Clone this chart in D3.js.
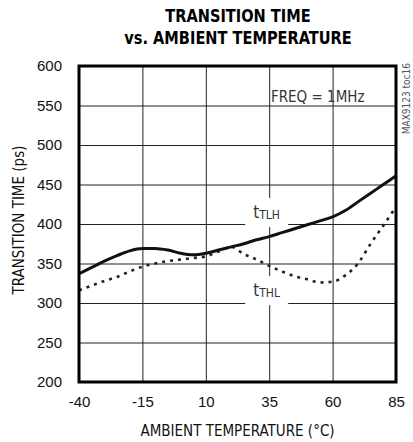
<!DOCTYPE html>
<html>
<head>
<meta charset="utf-8">
<script src="https://cdn.jsdelivr.net/npm/d3@7"></script>
<style>
  body { margin: 0; background: #fff; }
  svg { display: block; font-family: "Liberation Sans Narrow", "DejaVu Sans Condensed", sans-serif; }
</style>
</head>
<body>
<div id="chart"></div>
<script>
// values
const temps = [-40, -35, -30, -25, -20, -15, -10, -5, 0, 5, 10, 15, 20, 25, 30, 35, 40, 45, 50, 55, 60, 65, 70, 75, 80, 85];
const tTLH = [337, 345, 353, 360, 366, 369, 369, 367, 363, 361, 363, 367, 371, 375, 380, 384, 389, 394, 399, 404, 409, 417, 428, 439, 450, 461];
const tTHL = [316, 322, 328, 333, 340, 346, 350, 353, 355, 357, 359, 365, 371, 362, 355, 347, 340, 334, 330, 326, 327, 335, 350, 375, 398, 422];
const xTicks = [-40, -15, 10, 35, 60, 85];
const yTicks = [200, 250, 300, 350, 400, 450, 500, 550, 600];

const width = 413, height = 442;
const margin = { top: 66, right: 17, bottom: 60, left: 79 };
const innerW = width - margin.left - margin.right;
const innerH = height - margin.top - margin.bottom;

const svg = d3.select("#chart").append("svg")
  .attr("width", width)
  .attr("height", height);

const x = d3.scaleLinear().domain([-40, 85]).range([0, innerW]);
const y = d3.scaleLinear().domain([200, 600]).range([innerH, 0]);

const g = svg.append("g").attr("transform", `translate(${margin.left},${margin.top})`);

// grid + tick labels via axes (plain hyphen for negatives, like the original)
const fmt = d => String(d);
const xAxis = g.append("g")
  .attr("transform", `translate(0,${innerH})`)
  .call(d3.axisBottom(x).tickValues(xTicks).tickSize(-innerH).tickPadding(14).tickFormat(fmt));
const yAxis = g.append("g")
  .call(d3.axisLeft(y).tickValues(yTicks).tickSize(-innerW).tickPadding(17).tickFormat(fmt));

[xAxis, yAxis].forEach(a => {
  a.select(".domain").remove();
  a.selectAll(".tick line").attr("stroke", "#222").attr("stroke-width", 1);
  a.selectAll(".tick text").attr("font-size", 15).attr("fill", "#111").attr("font-family", null);
});
xAxis.selectAll(".tick text").attr("dy", "0.71em");

// curves
const line = d3.line()
  .x((d, i) => x(temps[i]))
  .y(d => y(d))
  .curve(d3.curveMonotoneX);

g.append("path")
  .datum(tTHL)
  .attr("fill", "none")
  .attr("stroke", "#222")
  .attr("stroke-width", 2.6)
  .attr("stroke-dasharray", "3,5")
  .attr("d", line);

g.append("path")
  .datum(tTLH)
  .attr("fill", "none")
  .attr("stroke", "#111")
  .attr("stroke-width", 3)
  .attr("d", line);

// curve labels with white knock-out boxes
const labels = [
  { main: "t", sub: "TLH", t: 35, v: 414 },
  { main: "t", sub: "THL", t: 35, v: 315 }
];
labels.forEach(l => {
  const cx = x(l.t), cy = y(l.v);
  g.append("rect")
    .attr("x", cx - 24).attr("y", cy - 15)
    .attr("width", 43).attr("height", 29)
    .attr("fill", "#fff");
  const txt = g.append("text")
    .attr("x", cx - 16).attr("y", cy + 5)
    .attr("fill", "#333")
    .attr("font-size", 17)
    .text(l.main);
  txt.append("tspan")
    .attr("font-size", 12)
    .attr("dy", 1)
    .text(l.sub);
});

// frame
g.append("rect")
  .attr("width", innerW).attr("height", innerH)
  .attr("fill", "none")
  .attr("stroke", "#000")
  .attr("stroke-width", 3);

// FREQ note
g.append("text")
  .attr("x", x(60) + 32).attr("y", y(554))
  .attr("text-anchor", "end")
  .attr("font-size", 15)
  .attr("fill", "#333")
  .text("FREQ = 1MHz");

// title, squeezed horizontally to mimic the heavy condensed face
const title = svg.append("g")
  .attr("transform", "translate(238,0) scale(0.9,1)")
  .append("text")
  .attr("font-size", 18)
  .attr("font-weight", "bold")
  .attr("text-anchor", "middle")
  .attr("fill", "#000");
title.append("tspan").attr("x", 0).attr("y", 22).text("TRANSITION TIME");
title.append("tspan").attr("x", 0).attr("y", 44).text("vs. AMBIENT TEMPERATURE");

// axis titles
svg.append("text")
  .attr("x", margin.left + innerW / 2).attr("y", 436)
  .attr("text-anchor", "middle")
  .attr("font-size", 15)
  .attr("fill", "#111")
  .text("AMBIENT TEMPERATURE (°C)");

svg.append("text")
  .attr("transform", `translate(24,${margin.top + innerH / 2 - 4}) rotate(-90)`)
  .attr("text-anchor", "middle")
  .attr("font-size", 15)
  .attr("fill", "#111")
  .text("TRANSITION TIME (ps)");

// side tag
svg.append("text")
  .attr("transform", `translate(410,63) rotate(-90)`)
  .attr("text-anchor", "end")
  .attr("font-size", 10)
  .attr("fill", "#555")
  .text("MAX9123 toc16");
</script>
</body>
</html>
